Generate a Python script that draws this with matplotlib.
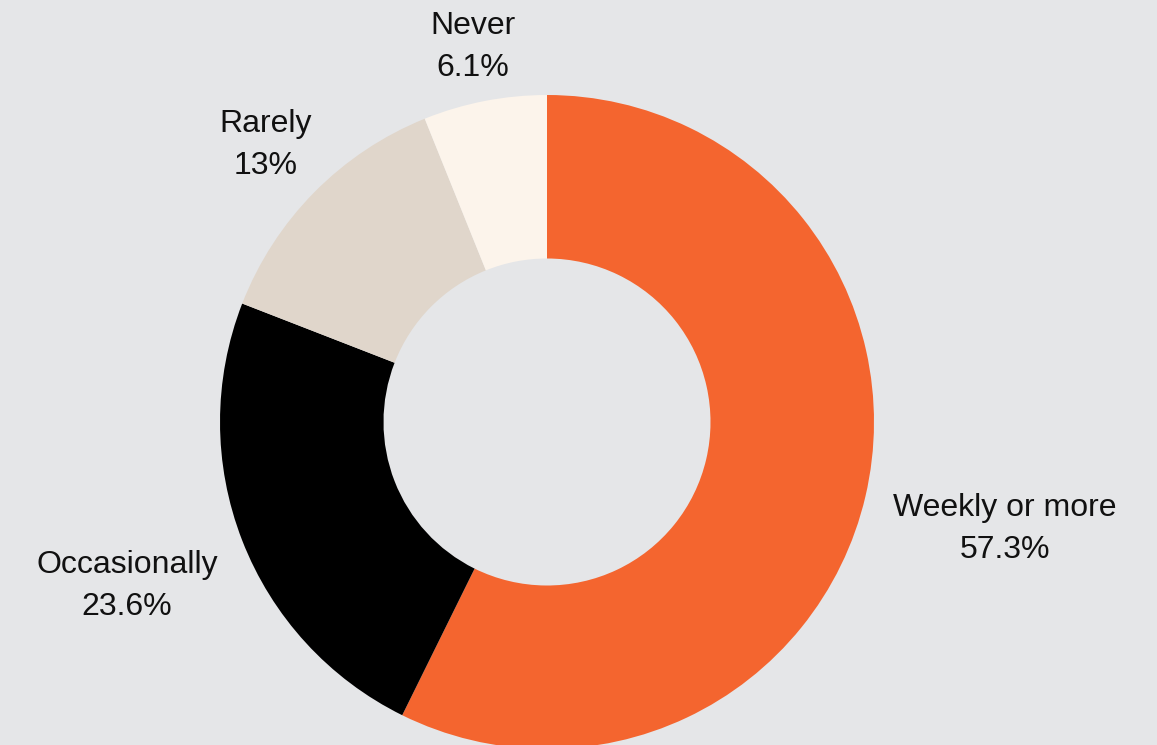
import matplotlib.pyplot as plt

# Share of respondents by frequency
labels = ['Weekly or more', 'Occasionally', 'Rarely', 'Never']
values = [57.3, 23.6, 13.0, 6.1]
pct_labels = ['57.3%', '23.6%', '13%', '6.1%']
colors = ['#f4652f', '#000000', '#e0d6cb', '#fcf4eb']

# label anchor positions (pixels from top-left)
label_pos = [(1005, 529), (127, 586), (266, 145), (473, 47)]

bg = '#e5e6e8'
W, H = 1157, 745

fig = plt.figure(figsize=(W / 100, H / 100), dpi=100, facecolor=bg)
ax = fig.add_axes([0, 0, 1, 1])
ax.set_facecolor(bg)

cx, cy, r = 547, H - 422, 327
ax.pie(values, colors=colors, startangle=90, counterclock=False,
       center=(cx, cy), radius=r,
       wedgeprops=dict(width=r * 0.5, linewidth=0))

for lab, pct, (x, y) in zip(labels, pct_labels, label_pos):
    ax.text(x, H - y, lab + '\n' + pct, ha='center', va='center',
            fontsize=23, family='Liberation Sans', linespacing=1.55,
            color='#111111')

ax.set_xlim(0, W)
ax.set_ylim(0, H)
ax.set_aspect('equal')
ax.axis('off')

fig.savefig('out.png', dpi=100, facecolor=bg)
